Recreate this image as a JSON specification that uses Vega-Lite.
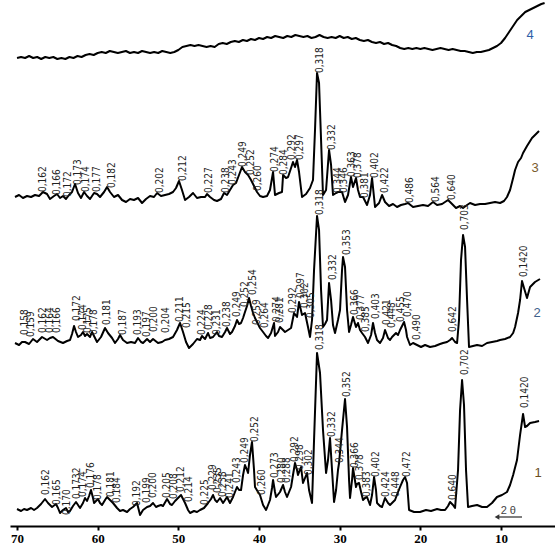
{
"$schema":"https://vega.github.io/schema/vega-lite/v6.json",
"width":545,"height":526,"autosize":{"type":"none"},
"padding":{"left":10,"top":0,"right":0,"bottom":27},
"background":"white",
"config":{"view":{"stroke":null}},
"datasets":{
"tr":[
{"s":"4","t":70,"I":468},{"s":"4","t":69.5,"I":469},{"s":"4","t":69,"I":468},{"s":"4","t":68.5,"I":470},{"s":"4","t":68,"I":468},{"s":"4","t":67.5,"I":469},{"s":"4","t":67,"I":467},{"s":"4","t":66.5,"I":469},{"s":"4","t":66,"I":468},{"s":"4","t":65.5,"I":469},{"s":"4","t":65,"I":467},{"s":"4","t":64.5,"I":468},{"s":"4","t":64,"I":467},{"s":"4","t":63.5,"I":469},{"s":"4","t":63,"I":468},{"s":"4","t":62.5,"I":470},{"s":"4","t":62,"I":469},{"s":"4","t":61.5,"I":471},{"s":"4","t":61,"I":472},{"s":"4","t":60.5,"I":471},{"s":"4","t":60,"I":473},{"s":"4","t":59.5,"I":474},{"s":"4","t":59,"I":473},{"s":"4","t":58.5,"I":475},{"s":"4","t":58,"I":474},{"s":"4","t":57.5,"I":473},{"s":"4","t":57,"I":474},{"s":"4","t":56.5,"I":475},{"s":"4","t":56,"I":473},{"s":"4","t":55.5,"I":474},{"s":"4","t":55,"I":473},{"s":"4","t":54.5,"I":475},{"s":"4","t":54,"I":474},{"s":"4","t":53.5,"I":473},{"s":"4","t":53,"I":474},{"s":"4","t":52.5,"I":473},{"s":"4","t":52,"I":475},{"s":"4","t":51.5,"I":474},{"s":"4","t":51,"I":473},{"s":"4","t":50.5,"I":474},{"s":"4","t":50,"I":476},{"s":"4","t":49.5,"I":479},{"s":"4","t":49,"I":480},{"s":"4","t":48.5,"I":481},{"s":"4","t":48,"I":480},{"s":"4","t":47.5,"I":481},{"s":"4","t":47,"I":480},{"s":"4","t":46.5,"I":479},{"s":"4","t":46,"I":480},{"s":"4","t":45.5,"I":479},{"s":"4","t":45,"I":482},{"s":"4","t":44.5,"I":483},{"s":"4","t":44,"I":482},{"s":"4","t":43.5,"I":484},{"s":"4","t":43,"I":485},{"s":"4","t":42.5,"I":484},{"s":"4","t":42,"I":486},{"s":"4","t":41.5,"I":485},{"s":"4","t":41,"I":487},{"s":"4","t":40.5,"I":486},{"s":"4","t":40,"I":488},{"s":"4","t":39.5,"I":487},{"s":"4","t":39,"I":489},{"s":"4","t":38.5,"I":488},{"s":"4","t":38,"I":490},{"s":"4","t":37.5,"I":489},{"s":"4","t":37,"I":488},{"s":"4","t":36.5,"I":490},{"s":"4","t":36,"I":489},{"s":"4","t":35.5,"I":491},{"s":"4","t":35,"I":490},{"s":"4","t":34.5,"I":489},{"s":"4","t":34,"I":490},{"s":"4","t":33.5,"I":488},{"s":"4","t":33,"I":489},{"s":"4","t":32.5,"I":491},{"s":"4","t":32,"I":489},{"s":"4","t":31.5,"I":488},{"s":"4","t":31,"I":489},{"s":"4","t":30.5,"I":488},{"s":"4","t":30,"I":490},{"s":"4","t":29.5,"I":488},{"s":"4","t":29,"I":489},{"s":"4","t":28.5,"I":487},{"s":"4","t":28,"I":488},{"s":"4","t":27.5,"I":486},{"s":"4","t":27,"I":485},{"s":"4","t":26.5,"I":486},{"s":"4","t":26,"I":484},{"s":"4","t":25.5,"I":483},{"s":"4","t":25,"I":484},{"s":"4","t":24.5,"I":482},{"s":"4","t":24,"I":483},{"s":"4","t":23.5,"I":481},{"s":"4","t":23,"I":480},{"s":"4","t":22.5,"I":478},{"s":"4","t":22,"I":477},{"s":"4","t":21.5,"I":478},{"s":"4","t":21,"I":477},{"s":"4","t":20.5,"I":478},{"s":"4","t":20,"I":477},{"s":"4","t":19.5,"I":478},{"s":"4","t":19,"I":477},{"s":"4","t":18.5,"I":476},{"s":"4","t":18,"I":477},{"s":"4","t":17.5,"I":478},{"s":"4","t":17,"I":477},{"s":"4","t":16.5,"I":476},{"s":"4","t":16,"I":477},{"s":"4","t":15.5,"I":476},{"s":"4","t":15,"I":475},{"s":"4","t":14.5,"I":475},{"s":"4","t":14,"I":474},{"s":"4","t":13.5,"I":473},{"s":"4","t":13,"I":474},{"s":"4","t":12.5,"I":474},{"s":"4","t":12,"I":475},{"s":"4","t":11.5,"I":476},{"s":"4","t":11,"I":478},{"s":"4","t":10.5,"I":480},{"s":"4","t":10,"I":483},{"s":"4","t":9.5,"I":488},{"s":"4","t":9,"I":494},{"s":"4","t":8.5,"I":500},{"s":"4","t":8,"I":506},{"s":"4","t":7.5,"I":510},{"s":"4","t":7,"I":514},{"s":"4","t":6.5,"I":516},{"s":"4","t":6,"I":518},{"s":"4","t":5.5,"I":520},{"s":"4","t":5,"I":522},{"s":"4","t":4.6,"I":523},
{"s":"3","t":70.25,"I":329},{"s":"3","t":69.75,"I":331},{"s":"3","t":69.26,"I":328},{"s":"3","t":68.76,"I":330},{"s":"3","t":68.26,"I":329},{"s":"3","t":67.77,"I":331},{"s":"3","t":67.27,"I":330},{"s":"3","t":66.78,"I":334},{"s":"3","t":66.28,"I":332},{"s":"3","t":65.91,"I":327},{"s":"3","t":65.41,"I":330},{"s":"3","t":65.04,"I":332},{"s":"3","t":64.67,"I":328},{"s":"3","t":64.3,"I":330},{"s":"3","t":63.93,"I":327},{"s":"3","t":63.55,"I":331},{"s":"3","t":63.18,"I":334},{"s":"3","t":62.81,"I":342},{"s":"3","t":62.44,"I":333},{"s":"3","t":62.07,"I":328},{"s":"3","t":61.69,"I":334},{"s":"3","t":61.32,"I":330},{"s":"3","t":60.95,"I":327},{"s":"3","t":60.45,"I":333},{"s":"3","t":60.08,"I":332},{"s":"3","t":59.71,"I":329},{"s":"3","t":59.21,"I":334},{"s":"3","t":58.84,"I":339},{"s":"3","t":58.47,"I":334},{"s":"3","t":57.98,"I":329},{"s":"3","t":57.48,"I":331},{"s":"3","t":56.98,"I":326},{"s":"3","t":56.49,"I":324},{"s":"3","t":55.99,"I":327},{"s":"3","t":55.5,"I":326},{"s":"3","t":55,"I":328},{"s":"3","t":54.5,"I":323},{"s":"3","t":54.01,"I":327},{"s":"3","t":53.51,"I":330},{"s":"3","t":53.02,"I":329},{"s":"3","t":52.64,"I":333},{"s":"3","t":52.15,"I":330},{"s":"3","t":51.65,"I":331},{"s":"3","t":51.16,"I":332},{"s":"3","t":50.66,"I":334},{"s":"3","t":50.29,"I":338},{"s":"3","t":49.92,"I":345},{"s":"3","t":49.55,"I":336},{"s":"3","t":49.17,"I":326},{"s":"3","t":48.68,"I":329},{"s":"3","t":48.18,"I":333},{"s":"3","t":47.69,"I":328},{"s":"3","t":47.19,"I":329},{"s":"3","t":46.69,"I":329},{"s":"3","t":46.45,"I":332},{"s":"3","t":46.07,"I":329},{"s":"3","t":45.58,"I":326},{"s":"3","t":45.21,"I":325},{"s":"3","t":44.71,"I":327},{"s":"3","t":44.34,"I":333},{"s":"3","t":43.97,"I":331},{"s":"3","t":43.6,"I":336},{"s":"3","t":43.22,"I":341},{"s":"3","t":42.85,"I":343},{"s":"3","t":42.48,"I":351},{"s":"3","t":42.11,"I":359},{"s":"3","t":41.74,"I":354},{"s":"3","t":41.36,"I":351},{"s":"3","t":40.99,"I":346},{"s":"3","t":40.62,"I":340},{"s":"3","t":40.25,"I":334},{"s":"3","t":39.88,"I":330},{"s":"3","t":39.5,"I":329},{"s":"3","t":39.01,"I":330},{"s":"3","t":38.64,"I":336},{"s":"3","t":38.26,"I":354},{"s":"3","t":38.02,"I":331},{"s":"3","t":37.52,"I":333},{"s":"3","t":37.15,"I":334},{"s":"3","t":37.02,"I":351},{"s":"3","t":36.65,"I":348},{"s":"3","t":36.4,"I":349},{"s":"3","t":36.03,"I":358},{"s":"3","t":35.79,"I":364},{"s":"3","t":35.54,"I":359},{"s":"3","t":35.29,"I":366},{"s":"3","t":35.04,"I":354},{"s":"3","t":34.67,"I":329},{"s":"3","t":34.17,"I":332},{"s":"3","t":33.68,"I":338},{"s":"3","t":33.31,"I":346},{"s":"3","t":33.06,"I":396},{"s":"3","t":32.81,"I":453},{"s":"3","t":32.56,"I":443},{"s":"3","t":32.31,"I":386},{"s":"3","t":32.07,"I":331},{"s":"3","t":31.69,"I":336},{"s":"3","t":31.32,"I":376},{"s":"3","t":31.07,"I":361},{"s":"3","t":30.83,"I":331},{"s":"3","t":30.45,"I":333},{"s":"3","t":30.21,"I":334},{"s":"3","t":29.71,"I":334},{"s":"3","t":29.34,"I":324},{"s":"3","t":28.97,"I":331},{"s":"3","t":28.6,"I":349},{"s":"3","t":28.35,"I":339},{"s":"3","t":27.98,"I":348},{"s":"3","t":27.73,"I":336},{"s":"3","t":27.48,"I":329},{"s":"3","t":27.11,"I":329},{"s":"3","t":26.61,"I":321},{"s":"3","t":26.24,"I":331},{"s":"3","t":25.99,"I":348},{"s":"3","t":25.62,"I":319},{"s":"3","t":25.12,"I":323},{"s":"3","t":24.75,"I":331},{"s":"3","t":24.38,"I":324},{"s":"3","t":23.88,"I":320},{"s":"3","t":23.39,"I":322},{"s":"3","t":22.89,"I":319},{"s":"3","t":22.4,"I":321},{"s":"3","t":21.9,"I":322},{"s":"3","t":21.53,"I":323},{"s":"3","t":20.91,"I":319},{"s":"3","t":20.29,"I":320},{"s":"3","t":19.67,"I":321},{"s":"3","t":19.05,"I":320},{"s":"3","t":18.43,"I":324},{"s":"3","t":17.93,"I":321},{"s":"3","t":17.31,"I":322},{"s":"3","t":16.57,"I":326},{"s":"3","t":16.07,"I":322},{"s":"3","t":15.58,"I":318},{"s":"3","t":15.08,"I":320},{"s":"3","t":14.71,"I":318},{"s":"3","t":14.21,"I":321},{"s":"3","t":13.84,"I":323},{"s":"3","t":13.22,"I":321},{"s":"3","t":12.6,"I":322},{"s":"3","t":11.98,"I":322},{"s":"3","t":11.36,"I":323},{"s":"3","t":10.74,"I":324},{"s":"3","t":10.12,"I":323},{"s":"3","t":9.63,"I":325},{"s":"3","t":9.26,"I":329},{"s":"3","t":8.88,"I":336},{"s":"3","t":8.5,"I":348},{"s":"3","t":8.26,"I":356},{"s":"3","t":7.89,"I":364},{"s":"3","t":7.52,"I":368},{"s":"3","t":7.27,"I":373},{"s":"3","t":6.78,"I":380},{"s":"3","t":6.16,"I":388},{"s":"3","t":5.66,"I":392},{"s":"3","t":5.29,"I":395},
{"s":"2","t":70.25,"I":183},{"s":"2","t":69.75,"I":181},{"s":"2","t":69.38,"I":184},{"s":"2","t":69.01,"I":184},{"s":"2","t":68.51,"I":182},{"s":"2","t":68.02,"I":187},{"s":"2","t":67.52,"I":184},{"s":"2","t":66.9,"I":189},{"s":"2","t":66.28,"I":186},{"s":"2","t":65.91,"I":188},{"s":"2","t":65.54,"I":189},{"s":"2","t":64.92,"I":185},{"s":"2","t":64.3,"I":183},{"s":"2","t":63.8,"I":185},{"s":"2","t":63.43,"I":186},{"s":"2","t":63.18,"I":192},{"s":"2","t":62.93,"I":200},{"s":"2","t":62.69,"I":194},{"s":"2","t":62.44,"I":189},{"s":"2","t":62.07,"I":191},{"s":"2","t":61.82,"I":194},{"s":"2","t":61.57,"I":190},{"s":"2","t":61.32,"I":192},{"s":"2","t":60.95,"I":189},{"s":"2","t":60.7,"I":194},{"s":"2","t":60.33,"I":188},{"s":"2","t":60.08,"I":184},{"s":"2","t":59.59,"I":189},{"s":"2","t":59.09,"I":198},{"s":"2","t":58.72,"I":193},{"s":"2","t":58.22,"I":188},{"s":"2","t":57.85,"I":183},{"s":"2","t":57.48,"I":187},{"s":"2","t":57.23,"I":191},{"s":"2","t":56.86,"I":186},{"s":"2","t":56.36,"I":183},{"s":"2","t":55.87,"I":184},{"s":"2","t":55.37,"I":183},{"s":"2","t":55,"I":188},{"s":"2","t":54.63,"I":184},{"s":"2","t":54.38,"I":183},{"s":"2","t":53.88,"I":187},{"s":"2","t":53.51,"I":184},{"s":"2","t":53.14,"I":187},{"s":"2","t":52.52,"I":183},{"s":"2","t":52.02,"I":184},{"s":"2","t":51.65,"I":186},{"s":"2","t":51.16,"I":187},{"s":"2","t":50.66,"I":189},{"s":"2","t":50.17,"I":196},{"s":"2","t":49.79,"I":203},{"s":"2","t":49.42,"I":194},{"s":"2","t":49.05,"I":184},{"s":"2","t":48.68,"I":178},{"s":"2","t":48.18,"I":182},{"s":"2","t":47.69,"I":187},{"s":"2","t":47.31,"I":186},{"s":"2","t":47.07,"I":190},{"s":"2","t":46.69,"I":187},{"s":"2","t":46.32,"I":193},{"s":"2","t":46.07,"I":188},{"s":"2","t":45.7,"I":189},{"s":"2","t":45.21,"I":194},{"s":"2","t":44.96,"I":190},{"s":"2","t":44.59,"I":189},{"s":"2","t":44.21,"I":194},{"s":"2","t":43.97,"I":198},{"s":"2","t":43.6,"I":192},{"s":"2","t":43.35,"I":194},{"s":"2","t":42.98,"I":200},{"s":"2","t":42.73,"I":206},{"s":"2","t":42.48,"I":202},{"s":"2","t":42.23,"I":203},{"s":"2","t":41.98,"I":208},{"s":"2","t":41.74,"I":214},{"s":"2","t":41.49,"I":220},{"s":"2","t":41.24,"I":228},{"s":"2","t":40.99,"I":220},{"s":"2","t":40.74,"I":213},{"s":"2","t":40.5,"I":208},{"s":"2","t":40.25,"I":204},{"s":"2","t":39.88,"I":198},{"s":"2","t":39.5,"I":194},{"s":"2","t":39.13,"I":190},{"s":"2","t":38.88,"I":188},{"s":"2","t":38.51,"I":193},{"s":"2","t":38.14,"I":203},{"s":"2","t":38.02,"I":190},{"s":"2","t":37.64,"I":194},{"s":"2","t":37.4,"I":199},{"s":"2","t":37.02,"I":196},{"s":"2","t":36.78,"I":194},{"s":"2","t":36.4,"I":196},{"s":"2","t":36.03,"I":198},{"s":"2","t":35.66,"I":213},{"s":"2","t":35.29,"I":209},{"s":"2","t":35.04,"I":224},{"s":"2","t":34.67,"I":211},{"s":"2","t":34.3,"I":213},{"s":"2","t":33.93,"I":199},{"s":"2","t":33.68,"I":189},{"s":"2","t":33.43,"I":206},{"s":"2","t":33.18,"I":256},{"s":"2","t":32.81,"I":310},{"s":"2","t":32.56,"I":296},{"s":"2","t":32.31,"I":236},{"s":"2","t":32.07,"I":199},{"s":"2","t":31.82,"I":202},{"s":"2","t":31.57,"I":206},{"s":"2","t":31.32,"I":243},{"s":"2","t":31.07,"I":226},{"s":"2","t":30.83,"I":201},{"s":"2","t":30.58,"I":193},{"s":"2","t":30.21,"I":206},{"s":"2","t":29.96,"I":216},{"s":"2","t":29.71,"I":256},{"s":"2","t":29.59,"I":269},{"s":"2","t":29.34,"I":259},{"s":"2","t":29.09,"I":216},{"s":"2","t":28.84,"I":194},{"s":"2","t":28.6,"I":201},{"s":"2","t":28.35,"I":209},{"s":"2","t":27.98,"I":199},{"s":"2","t":27.73,"I":203},{"s":"2","t":27.48,"I":196},{"s":"2","t":27.23,"I":193},{"s":"2","t":26.86,"I":189},{"s":"2","t":26.49,"I":183},{"s":"2","t":26.11,"I":191},{"s":"2","t":25.87,"I":203},{"s":"2","t":25.62,"I":193},{"s":"2","t":25.37,"I":186},{"s":"2","t":25,"I":183},{"s":"2","t":24.63,"I":188},{"s":"2","t":24.38,"I":196},{"s":"2","t":24.01,"I":188},{"s":"2","t":23.76,"I":186},{"s":"2","t":23.51,"I":189},{"s":"2","t":23.02,"I":193},{"s":"2","t":22.77,"I":191},{"s":"2","t":22.52,"I":196},{"s":"2","t":22.27,"I":200},{"s":"2","t":22.02,"I":204},{"s":"2","t":21.78,"I":196},{"s":"2","t":21.65,"I":189},{"s":"2","t":21.28,"I":181},{"s":"2","t":20.91,"I":183},{"s":"2","t":20.41,"I":181},{"s":"2","t":19.92,"I":179},{"s":"2","t":19.42,"I":181},{"s":"2","t":18.8,"I":179},{"s":"2","t":18.18,"I":180},{"s":"2","t":17.56,"I":182},{"s":"2","t":17.19,"I":183},{"s":"2","t":16.69,"I":184},{"s":"2","t":16.32,"I":186},{"s":"2","t":16.07,"I":188},{"s":"2","t":15.7,"I":184},{"s":"2","t":15.45,"I":183},{"s":"2","t":15.21,"I":206},{"s":"2","t":14.96,"I":266},{"s":"2","t":14.71,"I":291},{"s":"2","t":14.46,"I":279},{"s":"2","t":14.21,"I":226},{"s":"2","t":13.97,"I":179},{"s":"2","t":13.47,"I":180},{"s":"2","t":12.97,"I":181},{"s":"2","t":12.35,"I":180},{"s":"2","t":11.74,"I":183},{"s":"2","t":11.12,"I":184},{"s":"2","t":10.5,"I":185},{"s":"2","t":10.12,"I":186},{"s":"2","t":9.5,"I":187},{"s":"2","t":8.88,"I":189},{"s":"2","t":8.5,"I":193},{"s":"2","t":8.26,"I":199},{"s":"2","t":7.89,"I":213},{"s":"2","t":7.64,"I":226},{"s":"2","t":7.4,"I":245},{"s":"2","t":7.15,"I":238},{"s":"2","t":6.78,"I":228},{"s":"2","t":6.4,"I":239},{"s":"2","t":5.79,"I":244},{"s":"2","t":5.17,"I":247},
{"s":"1","t":70,"I":17},{"s":"1","t":69.5,"I":15},{"s":"1","t":69.13,"I":17},{"s":"1","t":68.76,"I":16},{"s":"1","t":68.26,"I":18},{"s":"1","t":67.89,"I":16},{"s":"1","t":67.52,"I":18},{"s":"1","t":67.02,"I":22},{"s":"1","t":66.53,"I":27},{"s":"1","t":66.16,"I":23},{"s":"1","t":65.66,"I":19},{"s":"1","t":65.17,"I":22},{"s":"1","t":64.92,"I":18},{"s":"1","t":64.67,"I":13},{"s":"1","t":64.3,"I":16},{"s":"1","t":63.93,"I":18},{"s":"1","t":63.68,"I":14},{"s":"1","t":63.43,"I":15},{"s":"1","t":63.06,"I":20},{"s":"1","t":62.69,"I":24},{"s":"1","t":62.44,"I":21},{"s":"1","t":62.19,"I":18},{"s":"1","t":61.82,"I":23},{"s":"1","t":61.57,"I":28},{"s":"1","t":61.32,"I":25},{"s":"1","t":61.07,"I":30},{"s":"1","t":60.83,"I":36},{"s":"1","t":60.58,"I":28},{"s":"1","t":60.45,"I":23},{"s":"1","t":60.21,"I":25},{"s":"1","t":59.96,"I":27},{"s":"1","t":59.71,"I":23},{"s":"1","t":59.46,"I":21},{"s":"1","t":59.09,"I":26},{"s":"1","t":58.84,"I":29},{"s":"1","t":58.47,"I":26},{"s":"1","t":58.1,"I":23},{"s":"1","t":57.6,"I":18},{"s":"1","t":57.23,"I":15},{"s":"1","t":56.86,"I":16},{"s":"1","t":56.36,"I":14},{"s":"1","t":55.99,"I":17},{"s":"1","t":55.62,"I":19},{"s":"1","t":55.12,"I":23},{"s":"1","t":54.75,"I":11},{"s":"1","t":54.38,"I":16},{"s":"1","t":53.88,"I":19},{"s":"1","t":53.51,"I":20},{"s":"1","t":53.14,"I":23},{"s":"1","t":52.77,"I":19},{"s":"1","t":52.52,"I":20},{"s":"1","t":52.15,"I":21},{"s":"1","t":51.9,"I":20},{"s":"1","t":51.4,"I":27},{"s":"1","t":51.03,"I":22},{"s":"1","t":50.79,"I":21},{"s":"1","t":50.41,"I":25},{"s":"1","t":50.04,"I":28},{"s":"1","t":49.67,"I":31},{"s":"1","t":49.42,"I":27},{"s":"1","t":49.17,"I":23},{"s":"1","t":48.8,"I":16},{"s":"1","t":48.55,"I":13},{"s":"1","t":48.06,"I":15},{"s":"1","t":47.69,"I":14},{"s":"1","t":47.31,"I":16},{"s":"1","t":46.82,"I":18},{"s":"1","t":46.32,"I":23},{"s":"1","t":45.95,"I":27},{"s":"1","t":45.7,"I":31},{"s":"1","t":45.45,"I":26},{"s":"1","t":45.21,"I":24},{"s":"1","t":44.83,"I":28},{"s":"1","t":44.46,"I":23},{"s":"1","t":44.21,"I":26},{"s":"1","t":43.97,"I":29},{"s":"1","t":43.6,"I":23},{"s":"1","t":43.22,"I":29},{"s":"1","t":42.98,"I":34},{"s":"1","t":42.73,"I":39},{"s":"1","t":42.48,"I":36},{"s":"1","t":42.23,"I":36},{"s":"1","t":41.98,"I":51},{"s":"1","t":41.74,"I":61},{"s":"1","t":41.49,"I":56},{"s":"1","t":41.36,"I":53},{"s":"1","t":41.12,"I":71},{"s":"1","t":40.87,"I":84},{"s":"1","t":40.62,"I":56},{"s":"1","t":40.5,"I":39},{"s":"1","t":40.12,"I":34},{"s":"1","t":39.88,"I":31},{"s":"1","t":39.5,"I":21},{"s":"1","t":39.13,"I":16},{"s":"1","t":38.88,"I":21},{"s":"1","t":38.64,"I":26},{"s":"1","t":38.39,"I":38},{"s":"1","t":38.26,"I":46},{"s":"1","t":38.02,"I":34},{"s":"1","t":37.89,"I":29},{"s":"1","t":37.4,"I":34},{"s":"1","t":37.02,"I":41},{"s":"1","t":36.78,"I":34},{"s":"1","t":36.53,"I":29},{"s":"1","t":36.28,"I":34},{"s":"1","t":36.03,"I":39},{"s":"1","t":35.79,"I":51},{"s":"1","t":35.54,"I":63},{"s":"1","t":35.29,"I":56},{"s":"1","t":35.17,"I":51},{"s":"1","t":34.79,"I":59},{"s":"1","t":34.55,"I":43},{"s":"1","t":34.3,"I":48},{"s":"1","t":34.05,"I":53},{"s":"1","t":33.8,"I":36},{"s":"1","t":33.43,"I":23},{"s":"1","t":33.18,"I":86},{"s":"1","t":32.81,"I":173},{"s":"1","t":32.44,"I":153},{"s":"1","t":32.07,"I":96},{"s":"1","t":31.69,"I":53},{"s":"1","t":31.45,"I":66},{"s":"1","t":31.2,"I":88},{"s":"1","t":30.95,"I":56},{"s":"1","t":30.7,"I":24},{"s":"1","t":30.45,"I":36},{"s":"1","t":30.21,"I":56},{"s":"1","t":30.08,"I":63},{"s":"1","t":29.71,"I":96},{"s":"1","t":29.34,"I":127},{"s":"1","t":29.09,"I":99},{"s":"1","t":28.84,"I":46},{"s":"1","t":28.72,"I":28},{"s":"1","t":28.47,"I":46},{"s":"1","t":28.35,"I":58},{"s":"1","t":27.98,"I":39},{"s":"1","t":27.85,"I":42},{"s":"1","t":27.6,"I":43},{"s":"1","t":27.35,"I":34},{"s":"1","t":27.11,"I":26},{"s":"1","t":26.86,"I":28},{"s":"1","t":26.61,"I":29},{"s":"1","t":26.24,"I":21},{"s":"1","t":25.99,"I":31},{"s":"1","t":25.74,"I":49},{"s":"1","t":25.5,"I":36},{"s":"1","t":25.37,"I":23},{"s":"1","t":25,"I":20},{"s":"1","t":24.75,"I":19},{"s":"1","t":24.38,"I":28},{"s":"1","t":24.01,"I":23},{"s":"1","t":23.76,"I":21},{"s":"1","t":23.39,"I":24},{"s":"1","t":23.14,"I":26},{"s":"1","t":22.77,"I":34},{"s":"1","t":22.52,"I":39},{"s":"1","t":22.15,"I":46},{"s":"1","t":21.9,"I":49},{"s":"1","t":21.65,"I":43},{"s":"1","t":21.4,"I":16},{"s":"1","t":20.78,"I":14},{"s":"1","t":20.04,"I":14},{"s":"1","t":19.3,"I":16},{"s":"1","t":18.68,"I":15},{"s":"1","t":17.93,"I":17},{"s":"1","t":17.44,"I":16},{"s":"1","t":16.94,"I":16},{"s":"1","t":16.57,"I":20},{"s":"1","t":16.32,"I":24},{"s":"1","t":15.95,"I":21},{"s":"1","t":15.7,"I":18},{"s":"1","t":15.33,"I":56},{"s":"1","t":15.08,"I":116},{"s":"1","t":14.83,"I":146},{"s":"1","t":14.59,"I":121},{"s":"1","t":14.34,"I":56},{"s":"1","t":14.09,"I":19},{"s":"1","t":13.59,"I":20},{"s":"1","t":12.97,"I":21},{"s":"1","t":12.35,"I":19},{"s":"1","t":11.74,"I":19},{"s":"1","t":11.12,"I":23},{"s":"1","t":10.5,"I":29},{"s":"1","t":9.88,"I":31},{"s":"1","t":9.26,"I":34},{"s":"1","t":8.88,"I":41},{"s":"1","t":8.5,"I":51},{"s":"1","t":8.02,"I":66},{"s":"1","t":7.64,"I":91},{"s":"1","t":7.27,"I":112},{"s":"1","t":7.02,"I":99},{"s":"1","t":6.78,"I":100},{"s":"1","t":6.4,"I":103},{"s":"1","t":5.79,"I":104},{"s":"1","t":5.29,"I":105}
],
"lb":[
{"t":66.78,"I":334,"txt":"0,162"},{"t":65.04,"I":331,"txt":"0,166"},{"t":63.68,"I":329,"txt":"0,172"},{"t":62.44,"I":341,"txt":"0,173"},{"t":61.45,"I":334,"txt":"0,174"},{"t":60.08,"I":334,"txt":"0,177"},{"t":58.22,"I":338,"txt":"0,182"},{"t":52.27,"I":333,"txt":"0,202"},{"t":49.42,"I":345,"txt":"0,212"},{"t":46.2,"I":333,"txt":"0,227"},{"t":44.09,"I":333,"txt":"0,238"},{"t":43.22,"I":341,"txt":"0,243"},{"t":41.98,"I":359,"txt":"0,249"},{"t":40.99,"I":351,"txt":"0,252"},{"t":40.12,"I":335,"txt":"0,260"},{"t":38.02,"I":354,"txt":"0,274"},{"t":36.9,"I":351,"txt":"0,284"},{"t":35.91,"I":366,"txt":"0,292"},{"t":34.92,"I":366,"txt":"0,297"},{"t":32.44,"I":453,"txt":"0,318"},{"t":30.95,"I":376,"txt":"0,332"},{"t":30.21,"I":333,"txt":"0,344"},{"t":29.46,"I":333,"txt":"0,346"},{"t":28.47,"I":349,"txt":"0,363"},{"t":27.73,"I":348,"txt":"0,378"},{"t":26.86,"I":328,"txt":"0,381"},{"t":25.62,"I":348,"txt":"0,402"},{"t":24.38,"I":333,"txt":"0,422"},{"t":21.28,"I":323,"txt":"0,486"},{"t":18.06,"I":324,"txt":"0,564"},{"t":16.07,"I":326,"txt":"0,640"},
{"t":69.01,"I":191,"txt":"0,158"},{"t":68.26,"I":189,"txt":"0,159"},{"t":66.78,"I":193,"txt":"0,162"},{"t":65.91,"I":193,"txt":"0,164"},{"t":65.04,"I":193,"txt":"0,166"},{"t":62.56,"I":205,"txt":"0,172"},{"t":61.82,"I":196,"txt":"0,174"},{"t":61.2,"I":193,"txt":"0,175"},{"t":60.45,"I":191,"txt":"0,178"},{"t":58.84,"I":201,"txt":"0,181"},{"t":56.86,"I":191,"txt":"0,187"},{"t":55,"I":191,"txt":"0,193"},{"t":53.88,"I":189,"txt":"0,197"},{"t":53.02,"I":194,"txt":"0,200"},{"t":51.53,"I":193,"txt":"0,204"},{"t":49.79,"I":204,"txt":"0,211"},{"t":48.93,"I":198,"txt":"0,215"},{"t":47.07,"I":191,"txt":"0,224"},{"t":46.2,"I":196,"txt":"0,228"},{"t":45.21,"I":191,"txt":"0,231"},{"t":43.97,"I":199,"txt":"0,238"},{"t":42.73,"I":209,"txt":"0,249"},{"t":41.74,"I":219,"txt":"0,252"},{"t":40.74,"I":231,"txt":"0,254"},{"t":40.25,"I":201,"txt":"0,259"},{"t":39.26,"I":198,"txt":"0,264"},{"t":37.77,"I":204,"txt":"0,274"},{"t":37.4,"I":203,"txt":"0,281"},{"t":35.79,"I":213,"txt":"0,292"},{"t":34.79,"I":228,"txt":"0,297"},{"t":34.3,"I":218,"txt":"0,302"},{"t":33.55,"I":208,"txt":"0,305"},{"t":32.44,"I":311,"txt":"0,318"},{"t":30.83,"I":246,"txt":"0,332"},{"t":29.09,"I":271,"txt":"0,353"},{"t":28.1,"I":211,"txt":"0,366"},{"t":27.35,"I":206,"txt":"0,377"},{"t":26.73,"I":194,"txt":"0,385"},{"t":25.5,"I":207,"txt":"0,403"},{"t":24.13,"I":201,"txt":"0,421"},{"t":23.51,"I":198,"txt":"0,448"},{"t":22.4,"I":204,"txt":"0,455"},{"t":21.53,"I":209,"txt":"0,470"},{"t":20.41,"I":186,"txt":"0,490"},{"t":15.95,"I":194,"txt":"0,642"},{"t":14.46,"I":296,"txt":"0,703"},{"t":7.15,"I":249,"txt":"0,1420"},
{"t":66.4,"I":31,"txt":"0,162"},{"t":65.04,"I":21,"txt":"0,165"},{"t":63.8,"I":11,"txt":"0,170"},{"t":62.56,"I":27,"txt":"0,1732"},{"t":61.82,"I":29,"txt":"0,174"},{"t":60.83,"I":38,"txt":"0,176"},{"t":59.96,"I":26,"txt":"0,178"},{"t":58.35,"I":29,"txt":"0,181"},{"t":57.6,"I":23,"txt":"0,184"},{"t":55.12,"I":20,"txt":"0,192"},{"t":53.88,"I":23,"txt":"0,199"},{"t":53.14,"I":28,"txt":"0,200"},{"t":51.4,"I":28,"txt":"0,205"},{"t":50.54,"I":27,"txt":"0,208"},{"t":49.67,"I":34,"txt":"0,212"},{"t":48.68,"I":24,"txt":"0,214"},{"t":46.69,"I":21,"txt":"0,225"},{"t":45.7,"I":36,"txt":"0,229"},{"t":45.08,"I":33,"txt":"0,235"},{"t":44.46,"I":29,"txt":"0,238"},{"t":43.6,"I":28,"txt":"0,241"},{"t":42.73,"I":43,"txt":"0,243"},{"t":41.74,"I":63,"txt":"0,249"},{"t":40.5,"I":84,"txt":"0,252"},{"t":39.63,"I":31,"txt":"0,260"},{"t":38.02,"I":48,"txt":"0,273"},{"t":37.15,"I":43,"txt":"0,280"},{"t":36.53,"I":43,"txt":"0,288"},{"t":35.54,"I":64,"txt":"0,292"},{"t":34.92,"I":56,"txt":"0,298"},{"t":33.8,"I":51,"txt":"0,302"},{"t":32.44,"I":176,"txt":"0,318"},{"t":30.95,"I":89,"txt":"0,332"},{"t":29.96,"I":63,"txt":"0,344"},{"t":29.09,"I":129,"txt":"0,352"},{"t":28.1,"I":58,"txt":"0,366"},{"t":27.48,"I":46,"txt":"0,378"},{"t":26.61,"I":29,"txt":"0,383"},{"t":25.5,"I":49,"txt":"0,402"},{"t":24.26,"I":29,"txt":"0,424"},{"t":23.02,"I":29,"txt":"0,448"},{"t":21.65,"I":49,"txt":"0,472"},{"t":15.95,"I":26,"txt":"0,640"},{"t":14.46,"I":151,"txt":"0,702"},{"t":7.02,"I":118,"txt":"0,1420"}
],
"nm":[
{"t":6.4,"I":491,"txt":"4","c":"#2E5EA8"},{"t":5.79,"I":358,"txt":"3","c":"#7A5C2E"},{"t":5.54,"I":213,"txt":"2","c":"#3E5F8A"},{"t":5.41,"I":53,"txt":"1","c":"#6B4E1E"}
],
"ar":[{"t":10.5,"t2":7.4,"I":9}],
"at":[{"t":9.1,"I":15,"txt":"2 θ"}]
},
"encoding":{
"x":{"field":"t","type":"quantitative","scale":{"domain":[3.31,70.87],"reverse":true,"nice":false,"zero":false},
"axis":{"values":[70,60,50,40,30,20,10],"title":null,"grid":false,"domainColor":"#000","domainWidth":2,"tickColor":"#000","tickWidth":2,"tickSize":4,"labelFont":"Liberation Serif","labelFontWeight":"bold","labelFontSize":13,"labelColor":"#000","labelPadding":2,"labelFlush":false}},
"y":{"field":"I","type":"quantitative","scale":{"domain":[0,526],"nice":false,"zero":false},"axis":null}
},
"layer":[
{"data":{"name":"tr"},"mark":{"type":"line","color":"#000","strokeWidth":2,"strokeJoin":"round"},"encoding":{"detail":{"field":"s"}}},
{"data":{"name":"lb"},"mark":{"type":"text","angle":270,"align":"left","baseline":"middle","font":"Liberation Sans Narrow, DejaVu Sans Condensed, Liberation Sans, sans-serif","fontSize":10,"color":"#222"},"encoding":{"text":{"field":"txt"}}},
{"data":{"name":"nm"},"mark":{"type":"text","align":"center","baseline":"middle","font":"Liberation Sans","fontSize":13},"encoding":{"text":{"field":"txt"},"color":{"field":"c","type":"nominal","scale":null}}},
{"data":{"name":"ar"},"mark":{"type":"rule","color":"#555","strokeWidth":1.5},"encoding":{"x2":{"field":"t2"}}},
{"data":{"name":"ar"},"mark":{"type":"point","shape":"triangle-left","filled":true,"size":30,"color":"#333","opacity":1},"encoding":{}},
{"data":{"name":"at"},"mark":{"type":"text","align":"center","baseline":"middle","font":"Liberation Sans","fontSize":11,"color":"#444"},"encoding":{"text":{"field":"txt"}}}
]
}
